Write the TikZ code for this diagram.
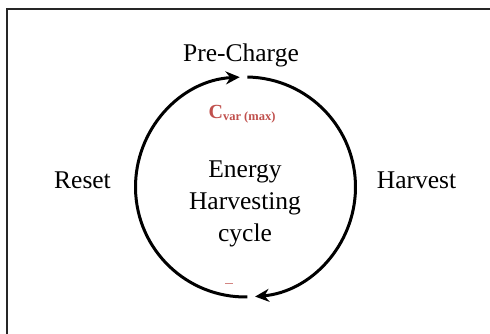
\documentclass[tikz,border=0pt]{standalone}
\usepackage{fontspec}
\setmainfont{Liberation Serif}
\usetikzlibrary{arrows.meta}
\definecolor{cred}{RGB}{192,80,77}
\begin{document}
\begin{tikzpicture}[x=1pt,y=-1pt,
  frame/.style={line width=2pt,draw=black!85},
  cyc/.style={line width=3pt,-{Stealth[length=14pt,width=13pt]}},
  lbl/.style={font=\fontsize{25.5}{32}\selectfont,inner sep=0pt,anchor=base},
  mid/.style={font=\fontsize{25.5}{32}\selectfont,inner sep=0pt,align=center,anchor=base}]
\useasboundingbox (0,0) rectangle (490,334);
\draw[frame] (7,340) -- (7,9) -- (500,9);
\coordinate (c) at (245.5,187);
\draw[cyc] ([shift={(-89:110)}]c) arc[start angle=-89,end angle=85,radius=110];
\draw[cyc] ([shift={(89:110)}]c) arc[start angle=89,end angle=267,radius=110];
\node[lbl] (pre) at (241,62) {Pre-Charge};
\node[lbl] (reset) at (82.5,189) {Reset};
\node[lbl] (harv) at (416.5,189) {Harvest};
\node[mid] (ehc) at (245,241) {Energy\\Harvesting\\cycle};
\node[inner sep=0pt,anchor=base,text=cred] (cv) at (242,119)
  {{\fontsize{20}{20}\selectfont\bfseries C}{\fontsize{12.5}{12.5}\selectfont\bfseries\raisebox{-2pt}{var (max)}}};
\draw[cred!70,line width=0.7pt] (225,283) -- (233,283);
\end{tikzpicture}
\end{document}
